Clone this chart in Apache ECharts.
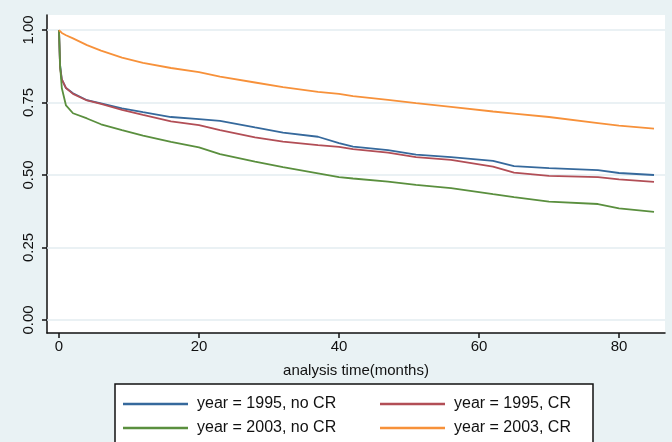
<!DOCTYPE html>
<html>
<head>
<meta charset="utf-8">
<script src="https://cdn.jsdelivr.net/npm/echarts@6/dist/echarts.min.js"></script>
<style>
  html, body { margin: 0; padding: 0; background: #e9f2f4; }
  #chart { width: 672px; height: 442px; }
</style>
</head>
<body>
<div id="chart"></div>
<script>
// survival curves, months on x
const months = [0, 0.15, 0.4, 1, 2, 4, 6, 9, 12, 16, 20, 23, 28, 32, 37, 40, 42, 47, 51, 56, 62, 65, 70, 77, 80, 85];

const y1995noCR = [1.0, 0.88, 0.83, 0.80, 0.782, 0.758, 0.747, 0.730, 0.717, 0.700, 0.693, 0.687, 0.664, 0.646, 0.632, 0.610, 0.598, 0.586, 0.570, 0.562, 0.549, 0.531, 0.524, 0.517, 0.507, 0.500];
const y1995CR   = [1.0, 0.87, 0.83, 0.80, 0.780, 0.757, 0.745, 0.725, 0.707, 0.685, 0.672, 0.655, 0.630, 0.615, 0.603, 0.597, 0.589, 0.577, 0.562, 0.552, 0.529, 0.508, 0.497, 0.493, 0.485, 0.476];
const y2003noCR = [1.0, 0.88, 0.80, 0.74, 0.713, 0.695, 0.675, 0.655, 0.636, 0.614, 0.595, 0.572, 0.546, 0.527, 0.506, 0.493, 0.488, 0.477, 0.466, 0.455, 0.434, 0.424, 0.408, 0.400, 0.385, 0.373];
const y2003CR   = [1.0, 0.995, 0.99, 0.982, 0.971, 0.948, 0.929, 0.905, 0.887, 0.869, 0.855, 0.839, 0.819, 0.803, 0.787, 0.780, 0.772, 0.759, 0.748, 0.735, 0.719, 0.712, 0.700, 0.679, 0.670, 0.660];

const seriesNames = ['year = 1995, no CR', 'year = 1995, CR', 'year = 2003, no CR', 'year = 2003, CR'];
const seriesColors = ['#36699c', '#b24e56', '#5a8f3e', '#f7913a'];
const seriesValues = [y1995noCR, y1995CR, y2003noCR, y2003CR];

const xTicks = [0, 20, 40, 60, 80];
const yTicks = [0, 0.25, 0.5, 0.75, 1];

const chart = echarts.init(document.getElementById('chart'), null, { renderer: 'canvas' });

const FONT = 'Liberation Sans, Arial, sans-serif';

const series = seriesValues.map((vals, i) => ({
  name: seriesNames[i],
  type: 'line',
  data: months.map((m, j) => [m, vals[j]]),
  showSymbol: false,
  symbol: 'none',
  smooth: false,
  lineStyle: { color: seriesColors[i], width: 1.8 },
  itemStyle: { color: seriesColors[i] },
  z: 3,
}));

// grid lines at the labelled y ticks (axis min is not on a tick)
series[0].markLine = {
  silent: true,
  symbol: 'none',
  label: { show: false },
  lineStyle: { color: '#e3edf1', width: 1.5, type: 'solid' },
  data: yTicks.map(v => ({ yAxis: v })),
  z: 1,
};

const legendBase = {
  orient: 'vertical', top: 395, padding: 0, itemGap: 6,
  icon: 'rect', itemWidth: 65, itemHeight: 2.5,
  textStyle: { fontFamily: FONT, fontSize: 16, color: '#111', lineHeight: 18, padding: [0, 0, 0, 4] },
};

const option = {
  backgroundColor: '#e9f2f4',
  animation: false,
  grid: {
    left: 47, right: 7, top: 15, bottom: 109,
    show: true, backgroundColor: '#ffffff', borderWidth: 0,
    containLabel: false, outerBoundsMode: 'none',
  },
  xAxis: {
    type: 'value',
    min: -1.714, max: 86.57,
    name: 'analysis time(months)',
    nameLocation: 'middle',
    nameGap: 30,
    nameTextStyle: { fontFamily: FONT, fontSize: 15, color: '#111' },
    axisLine: { show: true, onZero: false, lineStyle: { color: '#111', width: 1.5 } },
    axisTick: { show: true, customValues: xTicks, length: 5, lineStyle: { color: '#111', width: 1.5 } },
    axisLabel: { customValues: xTicks, fontFamily: FONT, fontSize: 15, color: '#111', margin: 6 },
    splitLine: { show: false },
  },
  yAxis: {
    type: 'value',
    min: -0.0448, max: 1.0518,
    axisLine: { show: true, onZero: false, lineStyle: { color: '#111', width: 1.5 } },
    axisTick: { show: true, customValues: yTicks, length: 5, lineStyle: { color: '#111', width: 1.5 } },
    axisLabel: {
      customValues: yTicks, rotate: 90, fontFamily: FONT, fontSize: 15, color: '#111', margin: 11,
      formatter: v => v.toFixed(2),
    },
    splitLine: { show: false },
  },
  graphic: [{
    type: 'rect',
    shape: { x: 115, y: 384, width: 478, height: 70 },
    style: { fill: '#ffffff', stroke: '#111', lineWidth: 1.5 },
    z: 0,
  }],
  legend: [
    Object.assign({}, legendBase, { left: 123, data: [seriesNames[0], seriesNames[2]] }),
    Object.assign({}, legendBase, { left: 380, data: [seriesNames[1], seriesNames[3]] }),
  ],
  series,
};

chart.setOption(option);
</script>
</body>
</html>
